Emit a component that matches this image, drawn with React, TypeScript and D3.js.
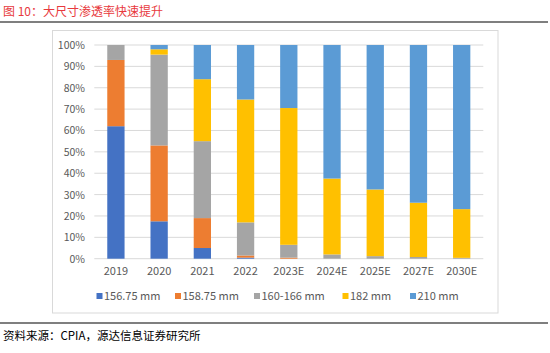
import React, { useEffect, useRef } from 'react';
import * as d3 from 'd3';

const years = ['2019', '2020', '2021', '2022', '2023E', '2024E', '2025E', '2027E', '2030E'];
const sizes = ['156.75 mm', '158.75 mm', '160-166 mm', '182 mm', '210 mm'];

// share of each wafer size per year (%)
const s15675 = [62, 17.5, 5, 0.5, 0, 0, 0, 0, 0];
const s15875 = [31, 35.5, 14, 1, 0.5, 0, 0, 0, 0];
const s160166 = [7, 42.5, 36, 15.5, 6, 2, 1.2, 0.8, 0.4];
const s182 = [0, 2.5, 29, 57.5, 64, 35.5, 31.2, 25.4, 22.8];
const s210 = [0, 2, 16, 25.5, 29.5, 62.5, 67.6, 73.8, 76.8];

const colors = ['#4472C4', '#ED7D31', '#A5A5A5', '#FFC000', '#5B9BD5'];
const yTicks = [0, 10, 20, 30, 40, 50, 60, 70, 80, 90, 100];

const App = () => {
  const ref = useRef<SVGSVGElement>(null);

  useEffect(() => {
    const svg = d3.select(ref.current);
    svg.selectAll('*').remove();

    const font = '"Microsoft YaHei", "Noto Sans CJK SC", sans-serif';
    const left = 94.3, right = 483.3, top = 45, bottom = 258.7;

    // header
    svg.append('text')
      .attr('x', 3).attr('y', 16)
      .attr('font-family', font).attr('font-size', 12)
      .attr('fill', '#E8393D')
      .text('图 10：大尺寸渗透率快速提升');
    svg.append('line')
      .attr('x1', 0).attr('x2', 548).attr('y1', 22).attr('y2', 22)
      .attr('stroke', '#000').attr('stroke-width', 1.2);

    // chart frame
    svg.append('rect')
      .attr('x', 52.5).attr('y', 30.5).attr('width', 445.5).attr('height', 282.5)
      .attr('fill', '#fff').attr('stroke', '#D9D9D9').attr('stroke-width', 1);

    const x = d3.scaleBand().domain(years).range([left, right]).paddingInner(0.6).paddingOuter(0.3);
    const y = d3.scaleLinear().domain([0, 100]).range([bottom, top]);

    const g = svg.append('g');

    g.selectAll('line.grid')
      .data(yTicks)
      .enter()
      .append('line')
      .attr('x1', left).attr('x2', right)
      .attr('y1', d => y(d)).attr('y2', d => y(d))
      .attr('stroke', '#D9D9D9').attr('stroke-width', 1);

    g.selectAll('text.ytick')
      .data(yTicks)
      .enter()
      .append('text')
      .attr('x', 85).attr('y', d => y(d) + 4)
      .attr('text-anchor', 'end')
      .attr('font-family', font).attr('font-size', 10.5)
      .attr('fill', '#595959')
      .text(d => d + '%');

    const rows = years.map((yr, i) => ({
      year: yr,
      a: s15675[i], b: s15875[i], c: s160166[i], d: s182[i], e: s210[i],
    }));
    const keys = ['a', 'b', 'c', 'd', 'e'];
    const stacked = d3.stack<any>().keys(keys)(rows);

    stacked.forEach((layer, k) => {
      g.selectAll('rect.s' + k)
        .data(layer)
        .enter()
        .append('rect')
        .attr('x', d => x(d.data.year)!)
        .attr('width', x.bandwidth())
        .attr('y', d => y(d[1]))
        .attr('height', d => Math.max(0, y(d[0]) - y(d[1])))
        .attr('fill', colors[k]);
    });

    g.selectAll('text.xtick')
      .data(years)
      .enter()
      .append('text')
      .attr('x', d => x(d)! + x.bandwidth() / 2)
      .attr('y', 275)
      .attr('text-anchor', 'middle')
      .attr('font-family', font).attr('font-size', 11)
      .attr('fill', '#595959')
      .text(d => d);

    // legend
    const legendX = [96.5, 175, 254, 342.5, 410];
    const lg = svg.selectAll('g.legend')
      .data(sizes)
      .enter()
      .append('g')
      .attr('transform', (d, i) => 'translate(' + legendX[i] + ',296.5)');
    lg.append('rect')
      .attr('x', 0).attr('y', -3.5).attr('width', 6).attr('height', 6)
      .attr('fill', (d, i) => colors[i]);
    lg.append('text')
      .attr('x', 7.5).attr('y', 3.8)
      .attr('font-family', font).attr('font-size', 11)
      .attr('fill', '#595959')
      .text(d => d);

    // footer
    svg.append('line')
      .attr('x1', 0).attr('x2', 548).attr('y1', 323).attr('y2', 323)
      .attr('stroke', '#000').attr('stroke-width', 1.2);
    svg.append('text')
      .attr('x', 3).attr('y', 340)
      .attr('font-family', font).attr('font-size', 11.5)
      .attr('fill', '#000')
      .text('资料来源：CPIA，源达信息证券研究所');
  }, []);

  return (
    <svg ref={ref} width={550} height={353}
      style={{ position: 'absolute', left: 0, top: 0, background: '#fff' }} />
  );
};

export default App;
